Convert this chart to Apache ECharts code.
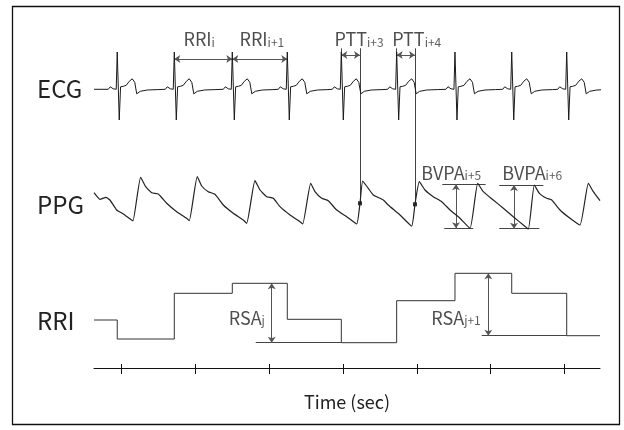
<!DOCTYPE html>
<html>
<head>
<meta charset="utf-8">
<script src="https://cdn.jsdelivr.net/npm/echarts@6/dist/echarts.min.js"></script>
<style>
  html, body { margin: 0; padding: 0; background: #fff; }
  #chart { width: 624px; height: 430px; }
</style>
</head>
<body>
<div id="chart"></div>
<script>
// time axis (sec)
const T_START = 0.625
const T_END = 7.481
const tickTimes = [1, 2, 3, 4, 5, 6, 7]

// ECG: R peak times and one beat shape around R
const rPeaks = [0.940, 1.713, 2.499, 3.244, 3.976, 4.726, 5.516, 6.285, 7.030]
const beatDt = [-0.122, -0.095, -0.075, -0.054, -0.034, -0.014, 0, 0.027, 0.045, 0.081, 0.122, 0.163, 0.203, 0.237, 0.264, 0.312, 0.407, 0.55]
const beatAmp = [0, 2.5, 3, 0.5, -1.5, 0, 37.3, -30.7, 2.5, 3, 4, 8, 10.5, 7, -4.5, -2, -0.7, -0.3]

// PPG
const ppgTime = [0.625, 0.706, 0.787, 0.841, 0.932, 1.022, 1.135, 1.153, 1.257, 1.325, 1.407, 1.496, 1.610, 1.745, 1.881, 1.916,
  2.024, 2.084, 2.173, 2.264, 2.377, 2.512, 2.648, 2.694, 2.806, 2.874, 2.965, 3.054, 3.145, 3.281, 3.416, 3.453,
  3.561, 3.619, 3.710, 3.799, 3.913, 4.049, 4.184, 4.229, 4.266, 4.341, 4.409, 4.545, 4.612, 4.771, 4.929, 4.974,
  5.033, 5.110, 5.222, 5.336, 5.449, 5.584, 5.720, 5.824, 5.900, 6.035, 6.171, 6.306, 6.442, 6.510,
  6.591, 6.659, 6.759, 6.827, 6.939, 7.075, 7.210, 7.323, 7.390, 7.481]
const ppgAmp = [37.3, 30.7, 32.7, 30, 20, 16, 10, 9, 52.7, 43.3, 37.3, 36, 26.7, 18.3, 11.7, 9.3,
  53.3, 44, 38.3, 35.7, 25, 16.7, 10, 6.7, 49.3, 40, 33.3, 31.7, 23.3, 15, 8.3, 6,
  46.7, 38.3, 31.7, 29.3, 20, 13.3, 6, 26.7, 49, 41.7, 35, 30, 25, 15, 4, 25.7,
  48.3, 40, 33.3, 28.3, 20, 11.7, 1.7, 46.7, 38.3, 30, 21.7, 13.3, 5, 1,
  45, 36.7, 31.7, 30, 20, 11.7, 5, 46.7, 38.3, 29.3]

// RRI step levels (one per interval, changes at each R peak)
const rriLevel = [25, 6, 51.7, 61.7, 25.7, 2.3, 44.3, 71.7, 51.7, 9.3]

// annotations
const rriArrowBeats = [1, 2]
const pttBeats = [4, 5]
const pttFootT = [4.229, 4.974]
const pttFootV = [26.7, 25.7]
const bvpaT = [5.530, 6.316]
const bvpaTop = [45.7, 45.0]
const bvpaBottom = [1.7, 1.3]
const bvpaTopSpan = [[5.344, 5.932], [6.116, 6.713]]
const bvpaBottomSpan = [[5.371, 5.764], [6.116, 6.659]]
const rsaT = [3.033, 5.968]
const rsaTop = [61.7, 71.7]
const rsaBottom = [2.3, 9.3]
const rsaBottomSpan = [[2.816, 3.976], [5.878, 7.030]]

const channelNames = ['ECG', 'PPG', 'RRI']

// vertical placement of each trace
const ECG_BASE = 278.7
const PPG_BASE = 138
const RRI_BASE = 23
const E = a => ECG_BASE + a
const P = a => PPG_BASE + a
const R = a => RRI_BASE + a
const channelY = [E(0.6), P(25), R(24.2)]

const FONT = '"Noto Sans CJK KR", "Noto Sans", sans-serif'

const ecgData = [[T_START, E(0)]]
rPeaks.forEach(r => beatDt.forEach((dt, k) => ecgData.push([r + dt, E(beatAmp[k])])))
const ppgData = ppgTime.map((t, k) => [t, P(ppgAmp[k])])
const rriData = [[T_START, R(rriLevel[0])]]
rPeaks.forEach((r, k) => rriData.push([r, R(rriLevel[k + 1])]))
rriData.push([T_END, R(rriLevel[rriLevel.length - 1])])

// double arrows
const arrows = []
rriArrowBeats.forEach(k => arrows.push({ coords: [[rPeaks[k], E(30.3)], [rPeaks[k + 1], E(30.3)]] }))
pttBeats.forEach((k, i) => arrows.push({ coords: [[rPeaks[k], E(34.3)], [pttFootT[i], E(34.3)]] }))
bvpaT.forEach((t, i) => arrows.push({ coords: [[t, P(bvpaTop[i])], [t, P(bvpaBottom[i])]] }))
rsaT.forEach((t, i) => arrows.push({ coords: [[t, R(rsaTop[i])], [t, R(rsaBottom[i])]] }))

// plain guide lines
const guides = []
pttBeats.forEach((k, i) => {
  guides.push({ coords: [[pttFootT[i], E(41)], [pttFootT[i], P(pttFootV[i])]] })
  guides.push({ coords: [[rPeaks[k], E(41)], [rPeaks[k], E(36)]] })
})
bvpaT.forEach((t, i) => {
  guides.push({ coords: [[bvpaTopSpan[i][0], P(bvpaTop[i])], [bvpaTopSpan[i][1], P(bvpaTop[i])]] })
  guides.push({ coords: [[bvpaBottomSpan[i][0], P(bvpaBottom[i])], [bvpaBottomSpan[i][1], P(bvpaBottom[i])]] })
})
rsaT.forEach((t, i) => {
  guides.push({ coords: [[rsaBottomSpan[i][0], R(rsaBottom[i])], [rsaBottomSpan[i][1], R(rsaBottom[i])]] })
})

// time axis ticks cross the axis line
const ticks = tickTimes.map(t => ({ coords: [[t, -6], [t, 4]] }))

// text labels: main text + subscript, anchored at left / baseline
const labels = [
  { text: 'RRI', sub: 'i', value: [1.844, E(44.3)] },
  { text: 'RRI', sub: 'i+1', value: [2.603, E(44.3)] },
  { text: 'PTT', sub: 'i+3', value: [3.890, E(44.3)] },
  { text: 'PTT', sub: 'i+4', value: [4.672, E(44.3)] },
  { text: 'BVPA', sub: 'i+5', value: [5.065, P(51.7)] },
  { text: 'BVPA', sub: 'i+6', value: [6.163, P(51.7)] },
  { text: 'RSA', sub: 'j', value: [2.458, R(21.7)] },
  { text: 'RSA', sub: 'j+1', value: [5.202, R(21.7)] }
]

let myChart = echarts.init(document.getElementById('chart'))
myChart.setOption({
  animation: false,
  backgroundColor: '#fff',
  textStyle: { fontFamily: FONT },
  graphic: [
    {
      type: 'rect',
      shape: { x: 12.5, y: 6.5, width: 607, height: 418 },
      style: { fill: 'none', stroke: '#111', lineWidth: 1.3 },
      silent: true
    }
  ],
  grid: { left: 94, right: 24, top: 18, bottom: 62, outerBoundsMode: 'none', containLabel: false },
  xAxis: {
    type: 'value',
    min: T_START,
    max: T_END,
    axisLine: { lineStyle: { color: '#111', width: 1 } },
    axisTick: { show: false },
    axisLabel: { show: false },
    splitLine: { show: false },
    name: 'Time (sec)',
    nameLocation: 'middle',
    nameGap: 25,
    nameTextStyle: { fontSize: 18, color: '#222', fontFamily: FONT }
  },
  yAxis: {
    type: 'value',
    min: 0,
    max: 350,
    axisLine: { show: false },
    axisTick: { show: false },
    splitLine: { show: false },
    axisLabel: {
      customValues: channelY,
      formatter: function (v) {
        let k = channelY.findIndex(y => Math.abs(y - v) < 0.01)
        return k >= 0 ? channelNames[k] : ''
      },
      align: 'left',
      margin: 57,
      fontSize: 24,
      color: '#222',
      fontFamily: FONT
    }
  },
  series: [
    {
      name: 'ECG',
      type: 'line',
      data: ecgData,
      showSymbol: false,
      lineStyle: { color: '#1a1a1a', width: 1 }
    },
    {
      name: 'PPG',
      type: 'line',
      data: ppgData,
      showSymbol: false,
      smooth: 0.15,
      lineStyle: { color: '#222', width: 1.2 }
    },
    {
      name: 'RRI',
      type: 'line',
      step: 'end',
      data: rriData,
      showSymbol: false,
      lineStyle: { color: '#333', width: 1 }
    },
    {
      type: 'lines',
      coordinateSystem: 'cartesian2d',
      data: guides,
      symbol: 'none',
      lineStyle: { color: '#444', width: 1, opacity: 1 },
      silent: true
    },
    {
      type: 'lines',
      coordinateSystem: 'cartesian2d',
      data: arrows,
      symbol: ['arrow', 'arrow'],
      symbolSize: 6,
      lineStyle: { color: '#555', width: 1, opacity: 1 },
      silent: true
    },
    {
      type: 'lines',
      coordinateSystem: 'cartesian2d',
      clip: false,
      data: ticks,
      symbol: 'none',
      lineStyle: { color: '#111', width: 1, opacity: 1 },
      silent: true
    },
    {
      type: 'scatter',
      data: pttFootT.map((t, i) => [t, P(pttFootV[i])]),
      symbol: 'rect',
      symbolSize: 4,
      itemStyle: { color: '#000' },
      silent: true
    },
    {
      type: 'scatter',
      clip: false,
      symbolSize: 1,
      itemStyle: { color: 'transparent' },
      silent: true,
      data: labels.map(l => ({
        value: l.value,
        label: { formatter: '{m|' + l.text + '}{s|' + l.sub + '}' }
      })),
      label: {
        show: true,
        position: [0, 0],
        align: 'left',
        verticalAlign: 'bottom',
        offset: [0, 4],
        rich: {
          m: { fontSize: 18, color: '#222', fontFamily: FONT, lineHeight: 22, verticalAlign: 'bottom' },
          s: { fontSize: 12, color: '#333', fontFamily: FONT, lineHeight: 16, verticalAlign: 'bottom' }
        }
      }
    }
  ]
})
</script>
</body>
</html>
